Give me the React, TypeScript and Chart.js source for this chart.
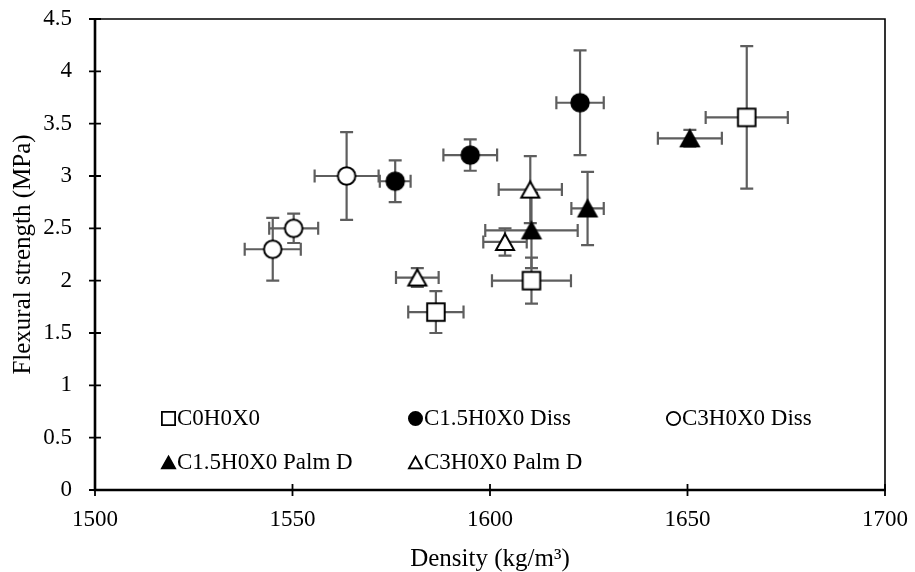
import React, { useEffect, useRef } from "react";
import { Chart, registerables } from "chart.js";

Chart.register(...registerables);

// ---------------- data ----------------
const seriesNames = ["C0H0X0", "C1.5H0X0 Diss", "C3H0X0 Diss", "C1.5H0X0 Palm D", "C3H0X0 Palm D"];

const c0Density = [1586.3, 1610.5, 1665.0];
const c0Strength = [1.70, 2.00, 3.56];
const c0DensityErr = [7.0, 10.0, 10.4];
const c0StrengthErr = [0.20, 0.22, 0.68];

const c15DissDensity = [1576.0, 1595.0, 1622.8];
const c15DissStrength = [2.95, 3.20, 3.70];
const c15DissDensityErr = [3.9, 6.8, 6.0];
const c15DissStrengthErr = [0.20, 0.15, 0.50];

const c3DissDensity = [1545.0, 1550.3, 1563.7];
const c3DissStrength = [2.30, 2.50, 3.00];
const c3DissDensityErr = [7.1, 6.2, 8.1];
const c3DissStrengthErr = [0.30, 0.14, 0.42];

const c15PalmDensity = [1610.5, 1624.7, 1650.6];
const c15PalmStrength = [2.48, 2.69, 3.36];
const c15PalmDensityErr = [11.7, 4.1, 8.1];
const c15PalmStrengthErr = [0.36, 0.35, 0.08];

const c3PalmDensity = [1581.6, 1603.8, 1610.2];
const c3PalmStrength = [2.03, 2.37, 2.87];
const c3PalmDensityErr = [5.4, 5.5, 8.0];
const c3PalmStrengthErr = [0.09, 0.13, 0.32];

const xMin = 1500;
const xMax = 1700;
const xStep = 50;
const yMin = 0;
const yMax = 4.5;
const yStep = 0.5;

const xTitle = "Density (kg/m³)";
const yTitle = "Flexural strength (MPa)";

// ---------------- styles ----------------
const FONT = "'Liberation Serif', 'Times New Roman', Times, serif";
const ERR_COLOR = "#5e5e5e";

type Shape = "square" | "circle" | "triangle";

function makeMarker(shape: Shape, filled: boolean, size: number, lw: number): HTMLCanvasElement {
  const box = Math.ceil(size + 4);
  const cv = document.createElement("canvas");
  cv.width = box;
  cv.height = box;
  const ctx = cv.getContext("2d")!;
  const c = box / 2;
  const s = (size - lw) / 2;
  ctx.lineWidth = lw;
  ctx.strokeStyle = "#000";
  ctx.fillStyle = filled ? "#000" : "#fff";
  ctx.lineJoin = "miter";
  ctx.beginPath();
  if (shape === "square") {
    ctx.rect(c - s, c - s, 2 * s, 2 * s);
  } else if (shape === "circle") {
    ctx.arc(c, c, s, 0, Math.PI * 2);
  } else {
    const h = s * 0.9;
    ctx.moveTo(c, c - h);
    ctx.lineTo(c + s, c + h);
    ctx.lineTo(c - s, c + h);
    ctx.closePath();
  }
  ctx.fill();
  ctx.stroke();
  return cv;
}

function toPoints(xs: number[], ys: number[]) {
  return xs.map((x, i) => ({ x, y: ys[i] }));
}

const errorBarPlugin = {
  id: "errorBars",
  beforeDatasetsDraw(chart: any) {
    const ctx = chart.ctx;
    const xs = chart.scales.x;
    const ys = chart.scales.y;
    const cap = 6.5;
    ctx.save();
    ctx.strokeStyle = ERR_COLOR;
    ctx.lineWidth = 2.2;
    ctx.lineCap = "butt";
    chart.data.datasets.forEach((ds: any) => {
      ds.data.forEach((p: any, j: number) => {
        const ex = ds.errX[j];
        const ey = ds.errY[j];
        const px = xs.getPixelForValue(p.x);
        const py = ys.getPixelForValue(p.y);
        const xl = xs.getPixelForValue(p.x - ex);
        const xr = xs.getPixelForValue(p.x + ex);
        const yt = ys.getPixelForValue(p.y + ey);
        const yb = ys.getPixelForValue(p.y - ey);
        ctx.beginPath();
        ctx.moveTo(xl, py);
        ctx.lineTo(xr, py);
        ctx.moveTo(xl, py - cap);
        ctx.lineTo(xl, py + cap);
        ctx.moveTo(xr, py - cap);
        ctx.lineTo(xr, py + cap);
        ctx.moveTo(px, yt);
        ctx.lineTo(px, yb);
        ctx.moveTo(px - cap, yt);
        ctx.lineTo(px + cap, yt);
        ctx.moveTo(px - cap, yb);
        ctx.lineTo(px + cap, yb);
        ctx.stroke();
      });
    });
    ctx.restore();
  },
};

const frameLegendPlugin = {
  id: "frameLegend",
  afterDraw(chart: any) {
    const ctx = chart.ctx;
    const a = chart.chartArea;
    const xs = chart.scales.x;
    const ys = chart.scales.y;
    ctx.save();
    // box top/right
    ctx.strokeStyle = "#000";
    ctx.lineWidth = 1.6;
    ctx.beginPath();
    ctx.moveTo(a.left, a.top);
    ctx.lineTo(a.right, a.top);
    ctx.lineTo(a.right, a.bottom);
    ctx.stroke();
    // axes
    ctx.lineWidth = 2.6;
    ctx.beginPath();
    ctx.moveTo(a.left, a.top - 1);
    ctx.lineTo(a.left, a.bottom);
    ctx.lineTo(a.right + 1, a.bottom);
    ctx.stroke();
    // tick marks crossing the axes
    ctx.lineWidth = 1.8;
    const tk = 6;
    ctx.beginPath();
    ys.ticks.forEach((t: any) => {
      const y = ys.getPixelForValue(t.value);
      ctx.moveTo(a.left - tk, y);
      ctx.lineTo(a.left + tk, y);
    });
    xs.ticks.forEach((t: any) => {
      const x = xs.getPixelForValue(t.value);
      ctx.moveTo(x, a.bottom - tk);
      ctx.lineTo(x, a.bottom + tk);
    });
    ctx.stroke();

    // legend
    const cols = [a.left + 73, a.left + 320, a.left + 578];
    const rows = [a.bottom - 72, a.bottom - 28];
    ctx.font = `23px ${FONT}`;
    ctx.fillStyle = "#000";
    ctx.textBaseline = "middle";
    ctx.textAlign = "left";
    chart.data.datasets.forEach((ds: any, i: number) => {
      const cx = cols[i % 3];
      const cy = rows[Math.floor(i / 3)];
      const img = ds.legendMarker as HTMLCanvasElement;
      ctx.drawImage(img, Math.round(cx - img.width / 2), Math.round(cy - img.height / 2));
      ctx.fillText(ds.label, cx + 9, cy + 1);
    });
    ctx.restore();
  },
};

export default function App() {
  const ref = useRef<HTMLCanvasElement | null>(null);

  useEffect(() => {
    document.body.style.margin = "0";
    const canvas = ref.current;
    if (!canvas) return;

    const specs: { shape: Shape; filled: boolean; xs: number[]; ys: number[]; ex: number[]; ey: number[] }[] = [
      { shape: "square", filled: false, xs: c0Density, ys: c0Strength, ex: c0DensityErr, ey: c0StrengthErr },
      { shape: "circle", filled: true, xs: c15DissDensity, ys: c15DissStrength, ex: c15DissDensityErr, ey: c15DissStrengthErr },
      { shape: "circle", filled: false, xs: c3DissDensity, ys: c3DissStrength, ex: c3DissDensityErr, ey: c3DissStrengthErr },
      { shape: "triangle", filled: true, xs: c15PalmDensity, ys: c15PalmStrength, ex: c15PalmDensityErr, ey: c15PalmStrengthErr },
      { shape: "triangle", filled: false, xs: c3PalmDensity, ys: c3PalmStrength, ex: c3PalmDensityErr, ey: c3PalmStrengthErr },
    ];

    const datasets = specs.map((s, i) => ({
      type: "scatter" as const,
      label: seriesNames[i],
      data: toPoints(s.xs, s.ys),
      errX: s.ex,
      errY: s.ey,
      pointStyle: makeMarker(s.shape, s.filled, s.shape === "triangle" ? 20 : 19.5, 2),
      legendMarker: makeMarker(s.shape, s.filled, 15, 1.8),
      pointRadius: 10,
      showLine: false,
    }));

    const chart = new Chart(canvas, {
      type: "scatter",
      data: { datasets: datasets as any },
      options: {
        animation: false,
        responsive: false,
        devicePixelRatio: 1,
        events: [],
        layout: { padding: { top: 19, right: 30, left: 0, bottom: 0 } },
        plugins: { legend: { display: false }, tooltip: { enabled: false } },
        scales: {
          x: {
            type: "linear",
            min: xMin,
            max: xMax,
            grid: { display: false, drawTicks: false },
            border: { display: false },
            ticks: {
              stepSize: xStep,
              color: "#000",
              font: { family: FONT, size: 23 },
              padding: 16,
              callback: (v: any) => String(v),
            },
            title: {
              display: true,
              text: xTitle,
              color: "#000",
              font: { family: FONT, size: 25 },
              padding: { top: 0, bottom: -2 },
            },
            afterFit: (s: any) => {
              s.height = 82;
              s.paddingLeft = 0;
              s.paddingRight = 0;
            },
          },
          y: {
            type: "linear",
            min: yMin,
            max: yMax,
            grid: { display: false, drawTicks: false },
            border: { display: false },
            ticks: {
              stepSize: yStep,
              color: "#000",
              font: { family: FONT, size: 23 },
              padding: 23,
              callback: (v: any) => String(v),
            },
            title: {
              display: true,
              text: yTitle,
              color: "#000",
              font: { family: FONT, size: 25 },
              padding: { top: 8, bottom: 0 },
            },
            afterFit: (s: any) => {
              s.width = 95;
              s.paddingTop = 0;
              s.paddingBottom = 0;
            },
          },
        },
      },
      plugins: [errorBarPlugin, frameLegendPlugin],
    });

    return () => chart.destroy();
  }, []);

  return (
    <div style={{ width: 915, height: 572, background: "#fff" }}>
      <canvas ref={ref} width={915} height={572} style={{ display: "block" }} />
    </div>
  );
}
